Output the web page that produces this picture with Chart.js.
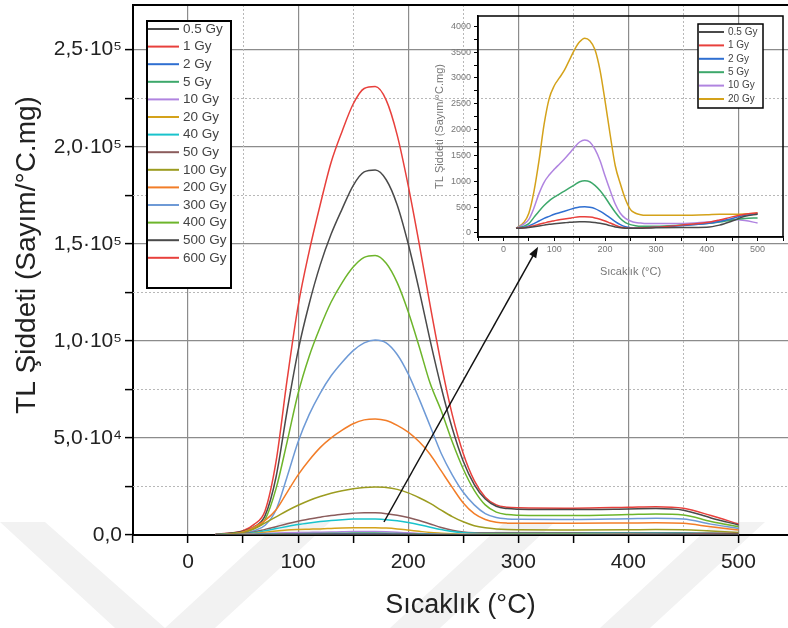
<!DOCTYPE html>
<html>
<head>
<meta charset="utf-8">
<script src="https://cdn.jsdelivr.net/npm/chart.js@4.4.0/dist/chart.umd.min.js"></script>
<style>
  html, body { margin: 0; padding: 0; background: #fff; }
  #wrap { position: relative; width: 788px; height: 628px; }
  #mainChart { position: absolute; left: 0; top: 0; }
  #insetChart { position: absolute; left: 425px; top: 5px; }
</style>
</head>
<body>
<div id="wrap">
  <canvas id="mainChart" width="788" height="628"></canvas>
  <canvas id="insetChart" width="363" height="280"></canvas>
</div>
<script>
// temperature points (°C)
const temperatures = [25, 40, 50, 60, 70, 80, 90, 100, 110, 120, 130, 140, 150, 160, 170, 180, 190, 200, 210, 220,
  230, 240, 250, 260, 270, 280, 290, 300, 350, 400, 425, 450, 475, 500];

// TL intensity per dose (Sayım/°C.mg)
const dose05 = [90, 95, 105, 120, 135, 150, 165, 175, 185, 195, 205, 212, 216, 216, 212, 200, 185, 165, 140, 115,
  100, 90, 88, 88, 90, 92, 95, 98, 105, 110, 150, 230, 320, 360];
const dose1 = [90, 100, 115, 140, 165, 190, 215, 235, 255, 270, 285, 300, 310, 312, 305, 290, 265, 230, 190, 150,
  115, 95, 90, 90, 95, 100, 105, 110, 150, 200, 250, 310, 360, 390];
const dose2 = [90, 110, 135, 180, 230, 280, 320, 360, 390, 420, 450, 480, 500, 505, 495, 470, 420, 360, 290, 220,
  160, 120, 100, 95, 95, 100, 105, 110, 140, 180, 220, 280, 340, 370];
const dose5 = [90, 130, 180, 300, 420, 530, 620, 690, 750, 810, 870, 930, 990, 1010, 990, 920, 820, 690, 540, 400,
  280, 200, 160, 140, 130, 130, 130, 130, 150, 180, 210, 250, 280, 290];
const dose10 = [90, 170, 260, 480, 760, 980, 1120, 1230, 1330, 1430, 1540, 1660, 1760, 1800, 1760, 1620, 1400, 1100, 820, 560,
  380, 280, 230, 200, 190, 180, 180, 180, 180, 210, 230, 260, 240, 190];
const dose20 = [90, 200, 380, 800, 1400, 2100, 2600, 2850, 3000, 3150, 3350, 3550, 3700, 3770, 3720, 3550, 3150, 2550, 1900, 1300,
  950, 650, 450, 380, 350, 340, 340, 340, 340, 350, 360, 360, 365, 380];
const dose40 = [50, 150, 450, 1100, 2200, 3300, 4400, 5400, 6200, 6900, 7500, 7900, 8200, 8300, 8200, 7900, 7300, 6400, 5300, 4000,
  2800, 1800, 1200, 900, 800, 800, 800, 800, 800, 900, 900, 900, 800, 600];
const dose50 = [50, 200, 600, 1500, 2900, 4300, 5800, 7100, 8200, 9200, 10000, 10700, 11200, 11500, 11400, 11000, 10200, 9000, 7500, 5700,
  3900, 2500, 1600, 1200, 1100, 1100, 1100, 1100, 1100, 1200, 1200, 1200, 1000, 800];
const dose100 = [100, 400, 1200, 3200, 6200, 9300, 12500, 15300, 17800, 19800, 21500, 22800, 23800, 24500, 24700, 24500, 23500, 21700, 19200, 16300,
  12800, 9500, 6800, 4800, 3700, 3100, 2800, 2700, 2600, 2700, 2800, 2700, 2000, 1300];
const dose200 = [100, 400, 1500, 4000, 7500, 13000, 22000, 31000, 38500, 45000, 50000, 54000, 57300, 59300, 59800, 59000, 56500, 53000, 48000, 41500,
  33000, 24500, 16500, 11000, 8000, 6600, 6100, 6000, 6000, 6200, 6300, 6000, 4200, 2600];
const dose300 = [200, 500, 1000, 2200, 5000, 13000, 30000, 48000, 62000, 73000, 82000, 89000, 95000, 99000, 100500, 99000, 93000, 83000, 70000, 56000,
  42000, 31000, 22000, 15500, 11000, 9000, 8300, 8100, 8000, 8400, 8600, 8200, 5600, 3400];
const dose400 = [300, 800, 1500, 3300, 8000, 24000, 48000, 73000, 92000, 107000, 120000, 130000, 138000, 143000, 144000, 140000, 130000, 115000, 97000, 78000,
  64000, 48000, 34000, 23000, 15500, 11800, 10500, 10200, 10000, 10500, 10800, 10300, 7000, 4300];
const dose500 = [400, 1000, 1900, 4200, 10000, 30000, 64000, 95000, 119000, 139000, 155000, 168000, 180000, 187000, 188000, 183000, 170000, 150000, 126000, 100000,
  76000, 55000, 38000, 26000, 18500, 14800, 13600, 13300, 13100, 13400, 13600, 12800, 8800, 5200];
const dose600 = [500, 1200, 2200, 5500, 12500, 38000, 80000, 118000, 146000, 170000, 192000, 208000, 222000, 230000, 231000, 224000, 206000, 180000, 150000, 118000,
  88000, 62000, 42000, 28000, 19500, 15500, 14300, 14000, 13800, 14300, 14600, 13800, 10000, 5700];

const doseLabels = ['0.5 Gy', '1 Gy', '2 Gy', '5 Gy', '10 Gy', '20 Gy', '40 Gy', '50 Gy', '100 Gy', '200 Gy', '300 Gy', '400 Gy', '500 Gy', '600 Gy'];
const doseSeries = [dose05, dose1, dose2, dose5, dose10, dose20, dose40, dose50, dose100, dose200, dose300, dose400, dose500, dose600];
const doseColors = [
  '#4a4a4a', // dark gray
  '#e8403c', // red
  '#2f6fd1', // blue
  '#3da86b', // green
  '#b084e0', // purple
  '#d4a21a', // goldenrod
  '#19c3cc', // cyan
  '#8b5c5c', // brown
  '#9c9c20', // olive
  '#f27d28', // orange
  '#6e9ad6', // light blue
  '#6db52b', // leaf green
  '#4a4a4a', // dark gray
  '#e8403c'  // red
];
const insetCount = 6; // inset shows 0.5 - 20 Gy

// tick positions (major ones get labels)
const mainXTicks = [-50, 0, 50, 100, 150, 200, 250, 300, 350, 400, 450, 500];
const mainYTicks = [0, 25000, 50000, 75000, 100000, 125000, 150000, 175000, 200000, 225000, 250000];
const insetXTicks = [-50, 0, 50, 100, 150, 200, 250, 300, 350, 400, 450, 500, 550];
const insetYTicks = [0, 250, 500, 750, 1000, 1250, 1500, 1750, 2000, 2250, 2500, 2750, 3000, 3250, 3500, 3750, 4000];

// arrow from main curves to inset, in main-axis values
const arrowFrom = [178, 6700];
const arrowTo = [318, 148500];

const yTitle = 'TL Şiddeti (Sayım/°C.mg)';
const xTitle = 'Sıcaklık (°C)';

Chart.defaults.font.family = '"Liberation Sans", Arial, sans-serif';

const supDigits = {'0': '⁰', '1': '¹', '2': '²', '3': '³', '4': '⁴', '5': '⁵', '6': '⁶', '7': '⁷', '8': '⁸', '9': '⁹'};
function sciLabel(v) {
  if (v === 0) return '0,0';
  const e = Math.floor(Math.log10(v));
  const m = (v / Math.pow(10, e)).toFixed(1).replace('.', ',');
  return m + '·10' + String(e).split('').map(d => supDigits[d]).join('');
}

function makeDatasets(count) {
  const sets = [];
  for (let i = 0; i < count; i++) {
    sets.push({
      label: doseLabels[i],
      data: temperatures.map((t, j) => ({x: t, y: doseSeries[i][j]})),
      borderColor: doseColors[i],
      borderWidth: 1.5,
      pointRadius: 0,
      fill: false,
      cubicInterpolationMode: 'monotone'
    });
  }
  return sets;
}

function useTicks(values) {
  return scale => { scale.ticks = values.map(v => ({value: v})); };
}
// no extra padding from edge tick labels
function fixX(h) {
  return scale => { scale.height = h; scale.paddingLeft = 0; scale.paddingRight = 0; };
}
function fixY(w) {
  return scale => { scale.width = w; scale.paddingTop = 0; scale.paddingBottom = 0; };
}

// legend box drawn inside the plot
function boxLegend(box) {
  return {
    id: 'boxLegend',
    afterDatasetsDraw(chart) {
      const ctx = chart.ctx;
      ctx.save();
      ctx.fillStyle = '#fff';
      ctx.fillRect(box.x, box.y, box.w, box.h);
      ctx.strokeStyle = '#000';
      ctx.lineWidth = box.border;
      ctx.strokeRect(box.x, box.y, box.w, box.h);
      ctx.font = box.fontSize + 'px "Liberation Sans", Arial, sans-serif';
      ctx.textBaseline = 'middle';
      ctx.fillStyle = '#444';
      chart.data.datasets.forEach((ds, i) => {
        const yy = box.y + box.first + i * box.step;
        ctx.strokeStyle = ds.borderColor;
        ctx.lineWidth = 2;
        ctx.beginPath();
        ctx.moveTo(box.x + 1, yy);
        ctx.lineTo(box.x + box.line, yy);
        ctx.stroke();
        ctx.fillText(ds.label, box.x + box.line + 4, yy);
      });
      ctx.restore();
    }
  };
}

const mainExtras = {
  id: 'mainExtras',
  beforeDraw(chart) {
    // faint watermark bands at the bottom of the page
    const ctx = chart.ctx;
    ctx.save();
    ctx.fillStyle = '#f2f2f2';
    const bands = [[0, 45, 115, 165, -1], [165, 215, 280, 330, 1], [390, 440, 505, 555, 1], [600, 650, 715, 765, 1]];
    bands.forEach(b => {
      ctx.beginPath();
      if (b[4] < 0) {
        ctx.moveTo(b[0], 522); ctx.lineTo(b[1], 522); ctx.lineTo(b[3], 628); ctx.lineTo(b[2], 628);
      } else {
        ctx.moveTo(b[0], 628); ctx.lineTo(b[1], 628); ctx.lineTo(b[3], 522); ctx.lineTo(b[2], 522);
      }
      ctx.closePath();
      ctx.fill();
    });
    ctx.restore();
  },
  beforeDatasetsDraw(chart) {
    const {ctx, chartArea: a, scales: {x, y}} = chart;
    ctx.save();
    ctx.strokeStyle = '#b8b8b8';
    ctx.lineWidth = 1;
    ctx.setLineDash([2, 2]);
    x.ticks.forEach(t => {
      if (t.value % 100 !== 0 && t.value > x.min) {
        const px = Math.round(x.getPixelForValue(t.value)) + 0.5;
        ctx.beginPath(); ctx.moveTo(px, a.top); ctx.lineTo(px, a.bottom); ctx.stroke();
      }
    });
    y.ticks.forEach(t => {
      if (t.value % 50000 !== 0) {
        const py = Math.round(y.getPixelForValue(t.value)) + 0.5;
        ctx.beginPath(); ctx.moveTo(a.left, py); ctx.lineTo(a.right, py); ctx.stroke();
      }
    });
    ctx.setLineDash([]);
    ctx.strokeStyle = '#000';
    ctx.lineWidth = 2;
    ctx.beginPath(); ctx.moveTo(a.left, a.top); ctx.lineTo(a.right, a.top); ctx.stroke();
    // rotated y-axis title
    ctx.translate(27, 255);
    ctx.rotate(-Math.PI / 2);
    ctx.fillStyle = '#222';
    ctx.font = '28px "Liberation Sans", Arial, sans-serif';
    ctx.textAlign = 'center';
    ctx.textBaseline = 'middle';
    ctx.fillText(yTitle, 0, 0);
    ctx.restore();
  },
  afterDatasetsDraw(chart) {
    const {ctx, scales: {x, y}} = chart;
    const x0 = x.getPixelForValue(arrowFrom[0]), y0 = y.getPixelForValue(arrowFrom[1]);
    const x1 = x.getPixelForValue(arrowTo[0]), y1 = y.getPixelForValue(arrowTo[1]);
    const ang = Math.atan2(y1 - y0, x1 - x0);
    ctx.save();
    ctx.strokeStyle = '#111';
    ctx.fillStyle = '#111';
    ctx.lineWidth = 1.5;
    ctx.beginPath(); ctx.moveTo(x0, y0); ctx.lineTo(x1 - 8 * Math.cos(ang), y1 - 8 * Math.sin(ang)); ctx.stroke();
    ctx.beginPath();
    ctx.moveTo(x1, y1);
    ctx.lineTo(x1 - 11 * Math.cos(ang) + 4 * Math.sin(ang), y1 - 11 * Math.sin(ang) - 4 * Math.cos(ang));
    ctx.lineTo(x1 - 11 * Math.cos(ang) - 4 * Math.sin(ang), y1 - 11 * Math.sin(ang) + 4 * Math.cos(ang));
    ctx.closePath();
    ctx.fill();
    ctx.restore();
  }
};

new Chart(document.getElementById('mainChart'), {
  type: 'line',
  data: { datasets: makeDatasets(doseSeries.length) },
  options: {
    responsive: false,
    animation: false,
    layout: { padding: { top: 5, right: 0, left: 0, bottom: 0 } },
    plugins: { legend: { display: false }, tooltip: { enabled: false } },
    scales: {
      x: {
        type: 'linear',
        min: -50,
        max: 545,
        afterBuildTicks: useTicks(mainXTicks),
        afterFit: fixX(93),
        ticks: {
          autoSkip: false,
          maxRotation: 0,
          padding: 7,
          color: '#222',
          font: { size: 21 },
          callback: v => (v % 100 === 0 ? String(v) : '')
        },
        grid: {
          color: c => (c.tick && c.tick.value % 100 === 0 ? '#8c8c8c' : 'rgba(0,0,0,0)'),
          lineWidth: 1.2,
          tickLength: 8,
          tickColor: '#000',
          tickWidth: 1.5
        },
        border: { color: '#000', width: 2 },
        title: {
          display: true,
          text: xTitle,
          color: '#222',
          font: { size: 27 },
          padding: { top: 0, bottom: 6 }
        }
      },
      y: {
        type: 'linear',
        min: 0,
        max: 273000,
        afterBuildTicks: useTicks(mainYTicks),
        afterFit: fixY(133),
        ticks: {
          autoSkip: false,
          padding: 3,
          color: '#222',
          font: { size: 21 },
          callback: v => (v % 50000 === 0 ? sciLabel(v) : '')
        },
        grid: {
          color: c => (c.tick && c.tick.value % 50000 === 0 && c.tick.value > 0 ? '#8c8c8c' : 'rgba(0,0,0,0)'),
          lineWidth: 1.2,
          tickLength: 8,
          tickColor: '#000',
          tickWidth: 1.5
        },
        border: { color: '#000', width: 2 },
        title: { display: false }
      }
    }
  },
  plugins: [mainExtras, boxLegend({x: 147, y: 21, w: 84, h: 267, first: 8, step: 17.6, line: 32, fontSize: 13.5, border: 2})]
});

const insetFrame = {
  id: 'insetFrame',
  afterDatasetsDraw(chart) {
    const {ctx, chartArea: a} = chart;
    ctx.save();
    ctx.strokeStyle = '#000';
    ctx.lineWidth = 1.5;
    ctx.strokeRect(a.left, a.top, a.right - a.left, a.bottom - a.top);
    ctx.restore();
  }
};

new Chart(document.getElementById('insetChart'), {
  type: 'line',
  data: { datasets: makeDatasets(insetCount) },
  options: {
    responsive: false,
    animation: false,
    layout: { padding: { top: 11, right: 5, left: 0, bottom: 0 } },
    plugins: { legend: { display: false }, tooltip: { enabled: false } },
    scales: {
      x: {
        type: 'linear',
        min: -50,
        max: 550,
        afterBuildTicks: useTicks(insetXTicks),
        afterFit: fixX(48),
        ticks: {
          autoSkip: false,
          maxRotation: 0,
          padding: 3,
          color: '#777',
          font: { size: 9 },
          callback: v => (v % 100 === 0 ? String(v) : '')
        },
        grid: {
          drawOnChartArea: false,
          tickLength: 4,
          tickColor: '#000'
        },
        border: { color: '#000', width: 1.5 },
        title: {
          display: true,
          text: xTitle,
          color: '#777',
          font: { size: 11 },
          padding: { top: 0, bottom: 6 }
        }
      },
      y: {
        type: 'linear',
        min: -80,
        max: 4200,
        afterBuildTicks: useTicks(insetYTicks),
        afterFit: fixY(53),
        ticks: {
          autoSkip: false,
          padding: 3,
          color: '#777',
          font: { size: 9 },
          callback: v => (v % 500 === 0 ? String(v) : '')
        },
        grid: {
          drawOnChartArea: false,
          tickLength: 4,
          tickColor: '#000'
        },
        border: { color: '#000', width: 1.5 },
        title: {
          display: true,
          text: yTitle,
          color: '#777',
          font: { size: 11 },
          padding: { top: 8, bottom: 0 }
        }
      }
    }
  },
  plugins: [insetFrame, boxLegend({x: 273, y: 19, w: 65, h: 84, first: 8, step: 13.4, line: 26, fontSize: 10, border: 1.5})]
});
</script>
</body>
</html>
